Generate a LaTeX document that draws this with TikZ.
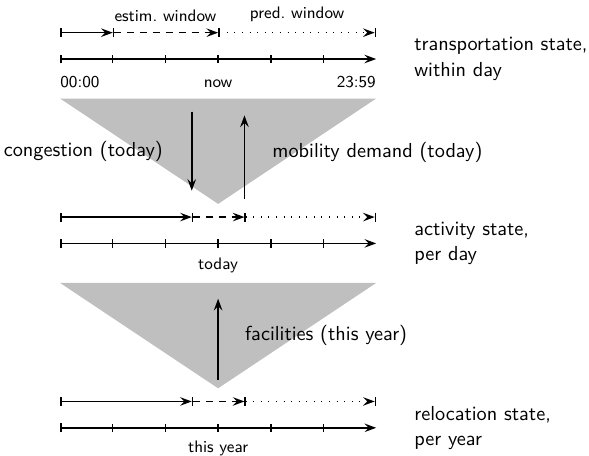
\documentclass[tikz,border=0pt]{standalone}
\usepackage{tikz}
\usetikzlibrary{arrows.meta, positioning, calc}
\colorlet{wedge-color}{gray!50}
\tikzset{
    tip/.tip     = {Stealth[length=6.3pt, width=4.6pt, inset=2.3pt]},
    bartip/.tip  = {Bar[width=0.17cm]},
    axis/.style  = {line width=0.8pt, {bartip}-{tip}},
    window/.style = {line width=0.8pt, {bartip}-{tip}},
    flow/.style  = {line width=0.8pt, -{tip}},
    wedge/.style = {fill=wedge-color},
    tick label/.style  = {font=\sffamily\fontsize{9}{11}\selectfont},
    state label/.style = {font=\sffamily\fontsize{10.95}{13.6}\selectfont, align=left},
    side label/.style  = {font=\sffamily\fontsize{10.95}{13.6}\selectfont},
    pics/timeline/.style 2 args = {
        code = {%
        \coordinate (-t0) at (0,0);
        \coordinate (-t3) at (3,0);
        \coordinate (-t6) at (6,0);
        \draw[axis] (-t0) -- (-t6);
        \foreach \x in {1,...,5}
            \draw[line width=0.8pt] (\x,-0.08) -- (\x,0.08);

        \coordinate (-w0) at (0,0.5);
        \coordinate (-wa) at (#1,0.5);
        \coordinate (-wb) at (#2,0.5);
        \coordinate (-w6) at (6,0.5);
        \draw[window] (-w0) -- (-wa);
        \draw[window, dash pattern=on 4pt off 3pt] (-wa) -- (-wb);
        \draw[window, dash pattern=on 0.5pt off 3.6pt, {bartip}-{tip[sep=0pt]bartip}] (-wb) -- (-w6);
        }
    }
}

\begin{document}
\begin{tikzpicture}
\useasboundingbox (-1.14,1.12) rectangle (10.04,-7.53);

% wedges between the levels
\fill[wedge] (0,-0.75) coordinate (w1-nw) -- (6,-0.75) coordinate (w1-ne)
    -- (3,-2.75) coordinate (w1-apex) -- cycle;
\fill[wedge] (0,-4.25) coordinate (w2-nw) -- (6,-4.25) coordinate (w2-ne)
    -- (3,-6.25) coordinate (w2-apex) -- cycle;

% transportation, within day
\pic (day) at (0,0) {timeline={1}{3}};
\node (lbl-estim) [tick label, above=0.08cm] at ($(day-wa)!.5!(day-wb)$) {estim.\ window};
\node (lbl-pred)  [tick label, above=0.08cm] at ($(day-wb)!.5!(day-w6)$) {pred.\ window};
\node (lbl-start) [tick label, anchor=base west, inner xsep=0pt] at ([yshift=-0.55cm]day-t0) {00:00};
\node (lbl-now)   [tick label, anchor=base] at ([yshift=-0.55cm]day-t3) {now};
\node (lbl-end)   [tick label, anchor=base east, inner xsep=0pt] at ([yshift=-0.55cm]day-t6) {23:59};
\node (state-day) [state label, right=0.6cm of day-t6] {transportation state,\\within day};

% activity, per day
\pic (act) at (0,-3.5) {timeline={2.5}{3.5}};
\node (lbl-today) [tick label, anchor=base] at ([yshift=-0.5cm]act-t3) {today};
\node (state-act) [state label, right=0.6cm of act-t6] {activity state,\\per day};

% relocation, per year
\pic (reloc) at (0,-7) {timeline={2.5}{3.5}};
\node (lbl-year) [tick label, anchor=base] at ([yshift=-0.47cm]reloc-t3) {this year};
\node (state-reloc) [state label, right=0.6cm of reloc-t6] {relocation state,\\per year};

% interactions
\coordinate (cong-in)  at (2.5,-1.0);
\coordinate (cong-out) at (2.5,-2.5);
\coordinate (dem-in)   at (3.5,-2.65);
\coordinate (dem-out)  at (3.5,-1.07);
\coordinate (fac-in)   at (3,-6.1);
\coordinate (fac-out)  at (3,-4.55);
\draw[flow] (cong-in) -- (cong-out)
    node (lbl-cong) [side label, midway, left=0.42cm] {congestion (today)};
\draw[flow] (dem-in) -- (dem-out)
    node (lbl-dem) [side label, pos=0.55, right=0.4cm] {mobility demand (today)};
\draw[flow] (fac-in) -- (fac-out)
    node (lbl-fac) [side label, pos=0.55, right=0.38cm] {facilities (this year)};
\end{tikzpicture}
\end{document}
